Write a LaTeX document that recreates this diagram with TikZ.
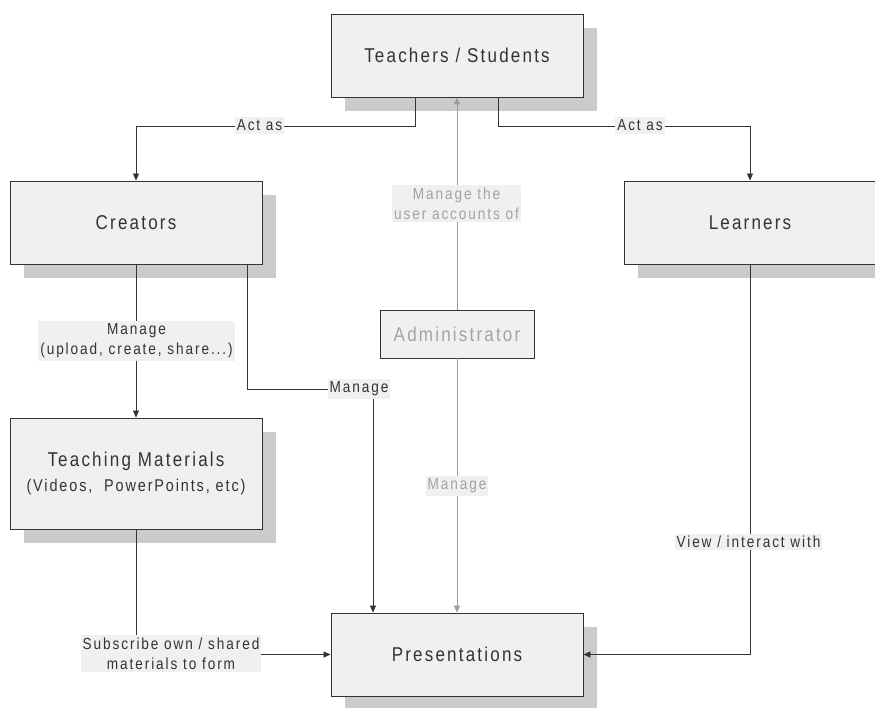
\documentclass[tikz,border=0pt]{standalone}
\usepackage{fontspec}
\setmainfont{Liberation Sans}
\newfontfamily\boxfont{Liberation Sans}[FakeStretch=0.85, LetterSpace=11]
\newfontfamily\lblfont{Liberation Sans}[FakeStretch=0.85, LetterSpace=12]
\usetikzlibrary{arrows.meta,shadows}

\definecolor{boxfill}{HTML}{F0F0F0}
\definecolor{shadowgray}{HTML}{CBCBCB}
\definecolor{inkdark}{HTML}{333333}
\definecolor{inkgray}{HTML}{A3A3A3}
\definecolor{linegray}{HTML}{9C9C9C}

\tikzset{
  entity/.style={draw=inkdark, line width=0.9pt, fill=boxfill, text=inkdark,
    minimum width=252pt, minimum height=83pt, align=center, inner xsep=1pt,
    font=\boxfont\fontsize{20}{25}\selectfont,
    drop shadow={shadow xshift=14pt, shadow yshift=-14pt, fill=shadowgray, opacity=1}},
  adminbox/.style={draw=inkdark, line width=0.9pt, fill=boxfill, text=inkgray,
    minimum width=154pt, minimum height=48pt, font=\boxfont\fontsize{20}{25}\selectfont},
  lbl/.style={fill=boxfill, text=inkdark, inner xsep=2pt, inner ysep=2.5pt, align=center,
    font=\lblfont\fontsize{16}{20}\selectfont},
  glbl/.style={lbl, text=inkgray},
  conn/.style={draw=inkdark, line width=0.8pt, -{Triangle[length=7pt,width=6pt]}},
  gconn/.style={draw=linegray, line width=1pt, -{Triangle[length=7pt,width=6pt]}},
}

\begin{document}
\begin{tikzpicture}[x=1pt,y=-1pt]
  \useasboundingbox (0,0) rectangle (875,707);

  % entities
  \node[entity] (ts) at (457,55.5)  {Teachers / Students};
  \node[entity] (cr) at (136,222.5) {Creators};
  \node[entity] (le) at (750,222.5) {Learners};
  \node[entity, minimum height=111pt] (tm) at (136,473.5)
    {Teaching Materials\\{\fontsize{17}{25}\selectfont(Videos,\ \ PowerPoints, etc)}};
  \node[entity] (pr) at (457,654.5) {Presentations};
  \node[adminbox] (ad) at (457,334) {Administrator};

  % connectors
  \draw[conn] ([xshift=-42pt]ts.south) -- ++(0,29) -| (cr.north);
  \draw[conn] ([xshift=41pt]ts.south) -- ++(0,29) -| (le.north);
  \draw[gconn] (ad.north) -- (ts.south);
  \draw[gconn] (ad.south) -- (pr.north);
  \draw[conn] (cr.south) -- (tm.north);
  \draw[conn] ([xshift=111pt]cr.south) -- ++(0,125) -| ([xshift=-84pt]pr.north);
  \draw[conn] (tm.south) |- (pr.west);
  \draw[conn] (le.south) |- (pr.east);

  % connector labels
  \node[lbl] (l-act1) at (259.5,125.5) {Act as};
  \node[lbl] (l-act2) at (640,125.5) {Act as};
  \node[glbl] (l-acc) at (456.5,203.5) {Manage the\\user accounts of};
  \node[lbl] (l-mat) at (136.5,341) {Manage\\(upload, create, share...)};
  \node[lbl] (l-man) at (359,389) {Manage};
  \node[glbl] (l-adm) at (457,486) {Manage};
  \node[lbl] (l-view) at (748.5,542) {View / interact with};
  \node[lbl] (l-sub) at (171,653.5) {Subscribe own / shared\\materials to form};
\end{tikzpicture}
\end{document}
